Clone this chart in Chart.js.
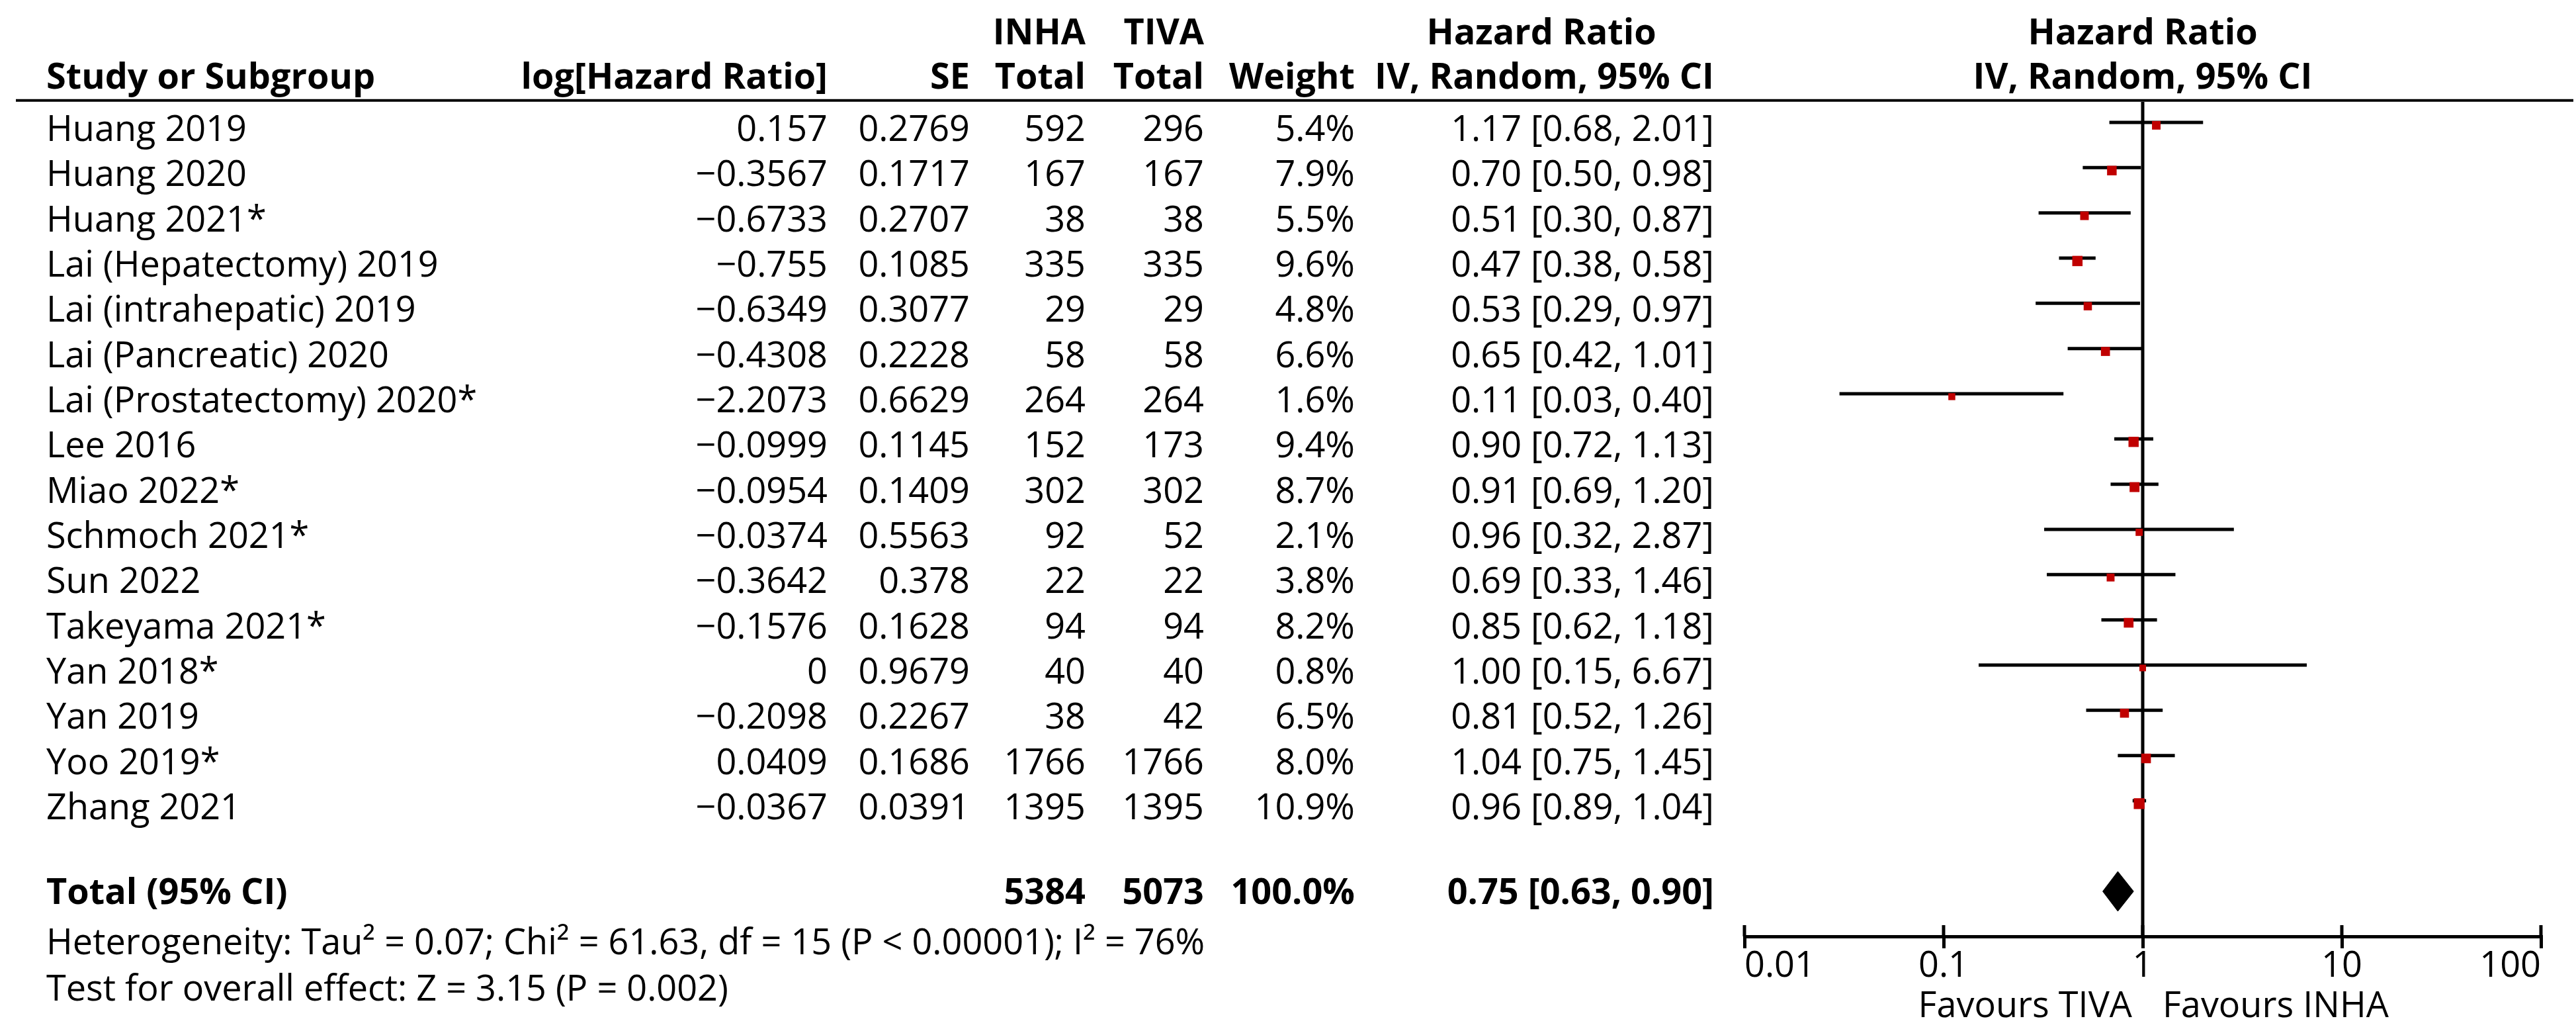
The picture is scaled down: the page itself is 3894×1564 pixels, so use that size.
<!DOCTYPE html>
<html>
<head>
    <title>Hazard Ratio Forest Plot</title>
    <script src="https://cdn.jsdelivr.net/npm/chart.js"></script>
    <style>
        body {
            margin: 0;
            background-color: white;
        }
        canvas {
            display: block;
        }
    </style>
</head>
<body>
    <canvas id="forest" width="3894" height="1564"></canvas>

    <script>
        // Study data
        const studies = ['Huang 2019', 'Huang 2020', 'Huang 2021*', 'Lai (Hepatectomy) 2019', 'Lai (intrahepatic) 2019',
            'Lai (Pancreatic) 2020', 'Lai (Prostatectomy) 2020*', 'Lee 2016', 'Miao 2022*', 'Schmoch 2021*', 'Sun 2022',
            'Takeyama 2021*', 'Yan 2018*', 'Yan 2019', 'Yoo 2019*', 'Zhang 2021'];
        const logHR = [0.157, -0.3567, -0.6733, -0.755, -0.6349, -0.4308, -2.2073, -0.0999, -0.0954, -0.0374, -0.3642, -0.1576, 0, -0.2098, 0.0409, -0.0367];
        const se = [0.2769, 0.1717, 0.2707, 0.1085, 0.3077, 0.2228, 0.6629, 0.1145, 0.1409, 0.5563, 0.378, 0.1628, 0.9679, 0.2267, 0.1686, 0.0391];
        const inhaTotal = [592, 167, 38, 335, 29, 58, 264, 152, 302, 92, 22, 94, 40, 38, 1766, 1395];
        const tivaTotal = [296, 167, 38, 335, 29, 58, 264, 173, 302, 52, 22, 94, 40, 42, 1766, 1395];
        const weight = [5.4, 7.9, 5.5, 9.6, 4.8, 6.6, 1.6, 9.4, 8.7, 2.1, 3.8, 8.2, 0.8, 6.5, 8.0, 10.9];
        const hr = [1.17, 0.70, 0.51, 0.47, 0.53, 0.65, 0.11, 0.90, 0.91, 0.96, 0.69, 0.85, 1.00, 0.81, 1.04, 0.96];
        const ciLow = [0.68, 0.50, 0.30, 0.38, 0.29, 0.42, 0.03, 0.72, 0.69, 0.32, 0.33, 0.62, 0.15, 0.52, 0.75, 0.89];
        const ciHigh = [2.01, 0.98, 0.87, 0.58, 0.97, 1.01, 0.40, 1.13, 1.20, 2.87, 1.46, 1.18, 6.67, 1.26, 1.45, 1.04];

        // Pooled result
        const totalInha = 5384;
        const totalTiva = 5073;
        const totalWeight = 100.0;
        const totalHR = 0.75;
        const totalLow = 0.63;
        const totalHigh = 0.90;

        const tickValues = [0.01, 0.1, 1, 10, 100];
        const tickLabels = ['0.01', '0.1', '1', '10', '100'];

        const heterogeneity = 'Heterogeneity: Tau\u00B2 = 0.07; Chi\u00B2 = 61.63, df = 15 (P < 0.00001); I\u00B2 = 76%';
        const overallTest = 'Test for overall effect: Z = 3.15 (P = 0.002)';

        // Row positions (in row units on the y scale)
        const TOTAL_ROW = 16.88;
        const HEAD1 = -2.14, HEAD2 = -1.15, HEAD_LINE = -0.61;
        const FONT = '"Open Sans", "Noto Sans", sans-serif';
        const REG = '54px ' + FONT;
        const BOLD = 'bold 54px ' + FONT;

        const fmt = v => String(v).replace('-', '\u2212');
        const fmtCI = (h, l, u) => h.toFixed(2) + ' [' + l.toFixed(2) + ', ' + u.toFixed(2) + ']';

        // datasets
        const squares = studies.map((s, i) => ({ x: hr[i], y: i - 0.06 }));
        const ciSegments = [];
        studies.forEach((s, i) => {
            ciSegments.push({ x: ciLow[i], y: i - 0.124 });
            ciSegments.push({ x: ciHigh[i], y: i - 0.124 });
            ciSegments.push({ x: ciHigh[i], y: null });
        });
        const diamond = [
            { x: totalLow, y: TOTAL_ROW },
            { x: totalHR, y: TOTAL_ROW - 0.44 },
            { x: totalHigh, y: TOTAL_ROW },
            { x: totalHR, y: TOTAL_ROW + 0.44 },
            { x: totalLow, y: TOTAL_ROW }
        ];

        // Table text, header rule and upper tick halves
        const tablePlugin = {
            id: 'table',
            afterDraw(chart) {
                const ctx = chart.ctx;
                const y = chart.scales.y;
                const x = chart.scales.x;
                const base = r => y.getPixelForValue(r) + 19.5;
                const one = x.getPixelForValue(1);

                function txt(str, px, row, align, font) {
                    ctx.font = font;
                    ctx.textAlign = align;
                    ctx.textBaseline = 'alphabetic';
                    ctx.fillStyle = '#000';
                    ctx.fillText(str, px, base(row));
                }

                ctx.save();

                // headers
                txt('INHA', 1641, HEAD1, 'right', BOLD);
                txt('TIVA', 1820, HEAD1, 'right', BOLD);
                txt('Hazard Ratio', 2330, HEAD1, 'center', BOLD);
                txt('Hazard Ratio', one, HEAD1, 'center', BOLD);
                txt('Study or Subgroup', 70, HEAD2, 'left', BOLD);
                txt('log[Hazard Ratio]', 1251, HEAD2, 'right', BOLD);
                txt('SE', 1466, HEAD2, 'right', BOLD);
                txt('Total', 1641, HEAD2, 'right', BOLD);
                txt('Total', 1820, HEAD2, 'right', BOLD);
                txt('Weight', 2048, HEAD2, 'right', BOLD);
                txt('IV, Random, 95% CI', 2591, HEAD2, 'right', BOLD);
                txt('IV, Random, 95% CI', one, HEAD2, 'center', BOLD);

                // header rule
                ctx.strokeStyle = '#000';
                ctx.lineWidth = 4;
                ctx.beginPath();
                ctx.moveTo(24, y.getPixelForValue(HEAD_LINE));
                ctx.lineTo(3890, y.getPixelForValue(HEAD_LINE));
                ctx.stroke();

                // study rows
                studies.forEach((s, i) => {
                    txt(s, 70, i, 'left', REG);
                    txt(fmt(logHR[i]), 1251, i, 'right', REG);
                    txt(String(se[i]), 1466, i, 'right', REG);
                    txt(String(inhaTotal[i]), 1641, i, 'right', REG);
                    txt(String(tivaTotal[i]), 1820, i, 'right', REG);
                    txt(weight[i].toFixed(1) + '%', 2048, i, 'right', REG);
                    txt(fmtCI(hr[i], ciLow[i], ciHigh[i]), 2591, i, 'right', REG);
                });

                // total
                txt('Total (95% CI)', 70, TOTAL_ROW, 'left', BOLD);
                txt(String(totalInha), 1641, TOTAL_ROW, 'right', BOLD);
                txt(String(totalTiva), 1820, TOTAL_ROW, 'right', BOLD);
                txt(totalWeight.toFixed(1) + '%', 2048, TOTAL_ROW, 'right', BOLD);
                txt(fmtCI(totalHR, totalLow, totalHigh), 2591, TOTAL_ROW, 'right', BOLD);

                txt(heterogeneity, 70, 17.98, 'left', REG);
                txt(overallTest, 70, 19.01, 'left', REG);

                // favours labels
                txt('Favours TIVA', one - 16, 19.37, 'right', REG);
                txt('Favours INHA', one + 30, 19.37, 'left', REG);

                // ticks also reach above the axis line
                const axisY = chart.chartArea.bottom;
                ctx.lineWidth = 5;
                tickValues.forEach(v => {
                    const px = x.getPixelForValue(v);
                    ctx.beginPath();
                    ctx.moveTo(px, axisY);
                    ctx.lineTo(px, axisY - 17);
                    ctx.stroke();
                });

                ctx.restore();
            }
        };

        const ctx = document.getElementById('forest').getContext('2d');
        const chart = new Chart(ctx, {
            type: 'line',
            data: {
                datasets: [
                    {
                        label: 'Studies',
                        type: 'scatter',
                        data: squares,
                        pointStyle: 'rect',
                        pointRadius: c => (9.5 + 0.63 * weight[c.dataIndex]) / (2 * Math.SQRT1_2),
                        pointBackgroundColor: '#c00000',
                        pointBorderWidth: 0,
                        order: 0
                    },
                    {
                        label: 'Total',
                        data: diamond,
                        borderColor: '#000',
                        backgroundColor: '#000',
                        borderWidth: 1,
                        pointRadius: 0,
                        fill: 'shape',
                        tension: 0,
                        order: 1
                    },
                    {
                        label: 'CI',
                        data: ciSegments,
                        borderColor: '#000',
                        borderWidth: 5,
                        pointRadius: 0,
                        spanGaps: false,
                        fill: false,
                        order: 2
                    },
                    {
                        label: 'No effect',
                        data: [{ x: 1, y: -0.578 }, { x: 1, y: 17.876 }],
                        borderColor: '#000',
                        borderWidth: 5,
                        pointRadius: 0,
                        fill: false,
                        order: 3
                    }
                ]
            },
            options: {
                responsive: false,
                devicePixelRatio: 1,
                animation: false,
                layout: {
                    padding: { left: 2637, right: 53, top: 154, bottom: 0 }
                },
                plugins: {
                    legend: { display: false },
                    tooltip: { enabled: false }
                },
                scales: {
                    x: {
                        type: 'logarithmic',
                        position: 'bottom',
                        min: 0.01,
                        max: 100,
                        afterBuildTicks: scale => {
                            scale.ticks = tickValues.map(v => ({ value: v }));
                        },
                        afterFit: scale => {
                            scale.height = 149;
                        },
                        border: {
                            display: true,
                            color: '#000',
                            width: 5
                        },
                        grid: {
                            drawOnChartArea: false,
                            drawTicks: true,
                            tickLength: 18,
                            lineWidth: 5,
                            color: '#000'
                        },
                        ticks: {
                            align: 'inner',
                            maxRotation: 0,
                            autoSkip: false,
                            padding: 1,
                            color: '#000',
                            font: { family: FONT, size: 54, lineHeight: 1.0 },
                            callback: (value, index) => tickLabels[index]
                        }
                    },
                    y: {
                        type: 'linear',
                        display: false,
                        reverse: true,
                        min: -0.578,
                        max: 17.876
                    }
                }
            },
            plugins: [tablePlugin]
        });
    </script>
</body>
</html>
